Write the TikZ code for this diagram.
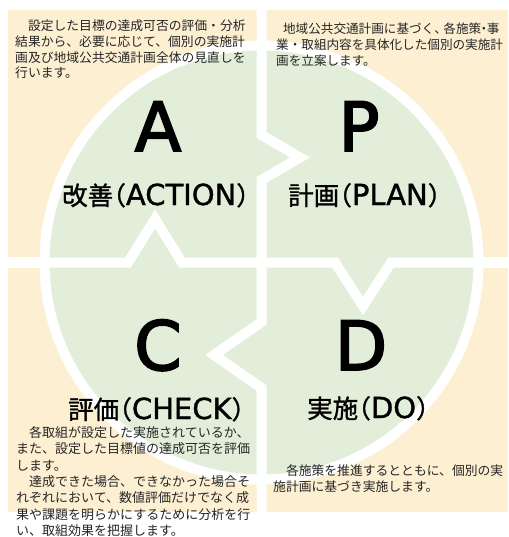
\documentclass[tikz,border=0pt]{standalone}
\usepackage{fontspec}
\setmainfont{Noto Sans CJK JP}
\newfontfamily\jpf{Noto Sans CJK JP}
\newfontfamily\jpbf[FakeBold=1.2]{Noto Sans CJK JP}
\newfontfamily\latbf[FakeBold=1.2]{DejaVu Sans}
\newfontfamily\bigfont[FakeBold=2.6]{DejaVu Sans}
\definecolor{beige}{HTML}{FCEFD2}
\definecolor{pdgreen}{HTML}{E3EEDA}
\definecolor{txtc}{HTML}{262626}
\newcommand{\lat}[1]{\kern-0.5em（{\latbf\fontsize{29}{29}\selectfont #1}）}
\newcommand{\nk}{\kern-0.28em}
\begin{document}
\begin{tikzpicture}[x=1pt,y=-1pt,
  quad/.style={fill=beige},
  cross/.style={draw=white,line width=10pt,line join=miter},
  bigl/.style={font=\bigfont\fontsize{68}{68}\selectfont,text=black,inner sep=0pt,anchor=base},
  lbl/.style={font=\jpbf\fontsize{25.5}{26}\selectfont,text=black,inner sep=0pt,anchor=base west},
  desc/.style={text=txtc,inner sep=0pt,align=left,anchor=north west}]
\useasboundingbox (0,0) rectangle (508,537);
\fill[white] (0,0) rectangle (508,537);
% quadrants
\fill[quad] (8,10) rectangle (257,257);
\fill[quad] (266,10) rectangle (508,257);
\fill[quad] (8,268) rectangle (257,512);
\fill[quad] (266,268) rectangle (508,512);
% circle
\coordinate (ctr) at (261.5,262.5);
\draw[draw=white,line width=10pt,fill=pdgreen] (ctr) circle[radius=217pt];
% cross with arrow notches
\draw[cross] (261.5,-5) -- (261.5,135) -- (300,157.5) -- (261.5,180) -- (ctr);
\draw[cross] (ctr) -- (335,262.5) -- (363,306) -- (391,262.5) -- (513,262.5);
\draw[cross] (ctr) -- (261.5,322) -- (214,355) -- (261.5,388) -- (261.5,542);
\draw[cross] (-5,262.5) -- (128,262.5) -- (155,219) -- (182,262.5) -- (ctr);
% big letters
\node[bigl] (A) at (158,151) {A};
\node[bigl] (P) at (359,151) {P};
\node[bigl] (C) at (158,370) {C};
\node[bigl] (D) at (361,370) {D};
% labels
\node[lbl] (la) at (62,205) {改善\lat{ACTION}};
\node[lbl] (lp) at (288,205) {計画\lat{PLAN}};
\node[lbl] (lc) at (68,419) {評価\lat{CHECK}};
\node[lbl] (ld) at (307,418) {実施\lat{DO}};
% descriptions
\node[desc,font=\jpf\fontsize{12.8}{15.8}\selectfont] (ta) at (15,19.5) {　設定した目標の達成可否の評価・分析\\結果から、必要に応じて、個別の実施計\\画及び地域公共交通計画全体の見直しを\\行います。};
\node[desc,font=\jpf\fontsize{12.6}{15.8}\selectfont] (tp) at (276,23) {\hspace{0.55em}地域公共交通計画に基づく、\nk 各施策\nk・\nk 事\\業・取組内容を具体化した個別の実施計\\画を立案します。};
\node[desc,font=\jpf\fontsize{13}{16.4}\selectfont] (tc) at (16,426) {　各取組が設定した実施されているか、\\また、設定した目標値の達成可否を評価\\します。\\　達成できた場合、できなかった場合そ\\れぞれにおいて、数値評価だけでなく成\\果や課題を明らかにするために分析を行\\い、取組効果を把握します。};
\node[desc,font=\jpf\fontsize{12.8}{16.7}\selectfont] (td) at (273,464) {　各施策を推進するとともに、個別の実\\施計画に基づき実施します。};
\end{tikzpicture}
\end{document}
